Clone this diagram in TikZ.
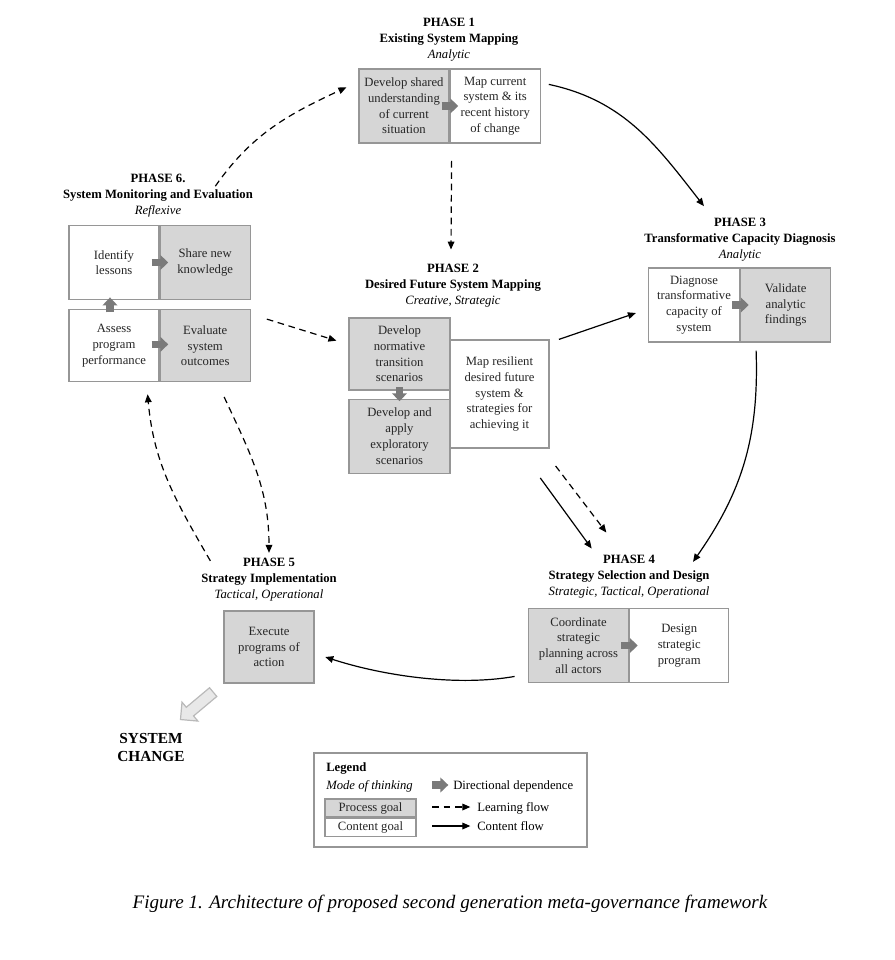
\documentclass[tikz,border=0pt]{standalone}
\usepackage{fontspec}
\setmainfont{Liberation Serif}
\usetikzlibrary{positioning,arrows.meta,shapes.arrows}
\definecolor{boxgrey}{HTML}{D6D6D6}
\definecolor{edgegrey}{HTML}{969696}
\definecolor{txtgrey}{HTML}{262626}
\definecolor{depgrey}{HTML}{7A7A7A}
\tikzset{
  cell/.style={draw=edgegrey, line width=0.9pt, minimum width=67.5pt, minimum height=55.5pt,
    align=center, inner sep=0pt, text=txtgrey,
    font=\fontsize{9.5}{11.8}\selectfont},
  proc/.style={cell, fill=boxgrey},
  cont/.style={cell, fill=white},
  phase/.style={align=center, inner sep=1pt, font=\fontsize{9.5}{12}\selectfont},
  dep/.style={draw=depgrey, line width=5.5pt, -{Triangle[length=6pt,width=11pt]}},
  content/.style={line width=0.9pt, -{Triangle[length=6pt,width=5pt]}},
  learning/.style={content, dash pattern=on 5pt off 3.5pt},
  bigarrow/.style={single arrow, draw=gray!55, fill=gray!18, line width=0.9pt,
    inner sep=3.8pt, minimum height=32pt, single arrow head extend=5pt},
}
\begin{document}
\begin{tikzpicture}[x=0.75pt,y=-0.75pt]
    \useasboundingbox (0,0) rectangle (895,960);

    % phase headings
    \node[phase] (ph1) at (449,40) {\textbf{PHASE 1}\\\textbf{Existing System Mapping}\\\textit{Analytic}};
    \node[phase] (ph2) at (453,286) {\textbf{PHASE 2}\\\textbf{Desired Future System Mapping}\\\textit{Creative, Strategic}};
    \node[phase] (ph3) at (740,240) {\textbf{PHASE 3}\\\textbf{Transformative Capacity Diagnosis}\\\textit{Analytic}};
    \node[phase] (ph4) at (629,577) {\textbf{PHASE 4}\\\textbf{Strategy Selection and Design}\\\textit{Strategic, Tactical, Operational}};
    \node[phase] (ph5) at (269,580) {\textbf{PHASE 5}\\\textbf{Strategy Implementation}\\\textit{Tactical, Operational}};
    \node[phase] (ph6) at (158,196) {\textbf{PHASE 6.}\\\textbf{System Monitoring and Evaluation}\\\textit{Reflexive}};

    % phase 1
    \node[proc] (p1a) at (404,106) {Develop shared\\understanding\\of current\\situation};
    \node[cont, right=0pt of p1a] (p1b) {Map current\\system \& its\\recent history\\of change};
    \draw[dep] ([xshift=-6pt]p1a.east) -- ([xshift=6.5pt]p1a.east);

    % phase 2
    \node[cont, minimum width=74.25pt, minimum height=81pt] (p2c) at (499.5,394) {Map resilient\\desired future\\system \&\\strategies for\\achieving it};
    \node[proc, minimum width=75.75pt, minimum height=54pt] (p2a) at (399.5,354) {Develop\\normative\\transition\\scenarios};
    \node[proc, minimum width=75.75pt, below=6pt of p2a] (p2b) {Develop and\\apply\\exploratory\\scenarios};
    \draw[dep] ([yshift=2.5pt]p2a.south) -- ([yshift=-2pt]p2b.north);

    % phase 3
    \node[cont, minimum width=68.25pt] (p3a) at (694,305) {Diagnose\\transformative\\capacity of\\system};
    \node[proc, minimum width=67.5pt, right=0pt of p3a] (p3b) {Validate\\analytic\\findings};
    \draw[dep] ([xshift=-6pt]p3a.east) -- ([xshift=6.5pt]p3a.east);

    % phase 4
    \node[proc, minimum width=75pt] (p4a) at (578.5,645.5) {Coordinate\\strategic\\planning across\\all actors};
    \node[cont, minimum width=74.25pt, right=0pt of p4a] (p4b) {Design\\strategic\\program};
    \draw[dep] ([xshift=-6pt]p4a.east) -- ([xshift=6.5pt]p4a.east);

    % phase 5
    \node[proc, minimum height=54pt] (p5) at (269,647) {Execute\\programs of\\action};

    % phase 6
    \node[cont] (p6a) at (114,262.5) {Identify\\lessons};
    \node[proc, right=0pt of p6a] (p6b) {Share new\\knowledge};
    \node[cont, minimum height=54pt, below=6.75pt of p6a] (p6c) {Assess\\program\\performance};
    \node[proc, minimum height=54pt, right=0pt of p6c] (p6d) {Evaluate\\system\\outcomes};
    \draw[dep] ([xshift=-6pt]p6a.east) -- ([xshift=6.5pt]p6a.east);
    \draw[dep] ([xshift=-6pt,yshift=1pt]p6c.east) -- ([xshift=6.5pt,yshift=1pt]p6c.east);
    \draw[dep] ([xshift=-3pt,yshift=-2.5pt]p6c.north) -- ([xshift=-3pt,yshift=2pt]p6a.south);

    % content flow
    \draw[content] ([xshift=6pt,yshift=-12pt]p1b.north east) to[out=-12,in=128] ([xshift=-27pt,yshift=8pt]ph3.north);
    \draw[content] ([xshift=12pt,yshift=-6pt]p3b.south west) to[out=-88,in=55] ([xshift=48pt,yshift=-6pt]ph4.north);
    \draw[content] ([xshift=7pt]p2c.north east) -- ([xshift=-9pt,yshift=-6pt]p3a.west);
    \draw[content] ([xshift=-7pt,yshift=-22pt]p2c.south east) -- ([xshift=-28pt,yshift=4pt]ph4.north);
    \draw[content] ([xshift=-10pt,yshift=5pt]p4a.south west) to[out=-170,in=-18,looseness=0.8] ([xshift=8pt,yshift=-7.5pt]p5.east);

    % learning flow
    \draw[learning] ([xshift=1.5pt,yshift=-13pt]p1a.south east) -- ([xshift=-1.5pt,yshift=10pt]ph2.north);
    \draw[learning] ([xshift=4.5pt,yshift=-13pt]p2c.south east) -- ([xshift=-17pt,yshift=16pt]ph4.north);
    \draw[learning] ([xshift=12pt,yshift=-7.5pt]p6d.north east) -- ([xshift=-9pt,yshift=10pt]p2a.west);
    \draw[learning] ([xshift=43pt,yshift=-10pt]ph6.north) to[out=55,in=-155] ([xshift=-9pt,yshift=14pt]p1a.west);
    \draw[learning] ([xshift=-20pt,yshift=-11pt]p6d.south east) to[out=-65,in=90] ([yshift=3pt]ph5.north);
    \draw[learning] ([xshift=8pt,yshift=-3pt]ph5.north west) to[out=120,in=-85] ([xshift=-9pt,yshift=-9pt]p6c.south east);

    % system change
    \node[bigarrow, rotate=220] (scarrow) at (199,704) {};
    \node[align=center, font=\fontsize{11.5}{13.5}\selectfont\bfseries] (sc) at (151,747) {SYSTEM\\CHANGE};

    % legend
    \node[draw=edgegrey, line width=0.9pt, minimum width=204.75pt, minimum height=70.5pt] (leg) at (450.5,800) {};
    \node[anchor=base west, inner sep=0pt, font=\fontsize{9.5}{12}\selectfont\bfseries] (legT) at (326,771) {Legend};
    \node[anchor=base west, inner sep=0pt, font=\fontsize{9.5}{12}\selectfont\itshape] (legM) at (326,789) {Mode of thinking};
    \node[proc, minimum width=68.25pt, minimum height=13.5pt] (legP) at (370.5,808) {Process goal};
    \node[cont, minimum width=68.25pt, minimum height=13.5pt, below=0pt of legP] (legC) {Content goal};
    \node[anchor=base west, inner sep=0pt, font=\fontsize{9.5}{12}\selectfont] (legD) at (453,789) {Directional dependence};
    \node[anchor=base west, inner sep=0pt, font=\fontsize{9.5}{12}\selectfont] (legL) at (477,811) {Learning flow};
    \node[anchor=base west, inner sep=0pt, font=\fontsize{9.5}{12}\selectfont] (legF) at (477,830) {Content flow};
    \draw[dep] ([xshift=-15.5pt,yshift=3pt]legD.base west) -- ([xshift=-3.5pt,yshift=3pt]legD.base west);
    \draw[learning] ([xshift=-33.5pt,yshift=3pt]legL.base west) -- ([xshift=-5pt,yshift=3pt]legL.base west);
    \draw[content] ([xshift=-33.5pt,yshift=3pt]legF.base west) -- ([xshift=-5pt,yshift=3pt]legF.base west);

    % caption
    \node[font=\fontsize{14.3}{17}\selectfont\itshape] (cap) at (450,904) {Figure 1. Architecture of proposed second generation meta-governance framework};
\end{tikzpicture}
\end{document}
